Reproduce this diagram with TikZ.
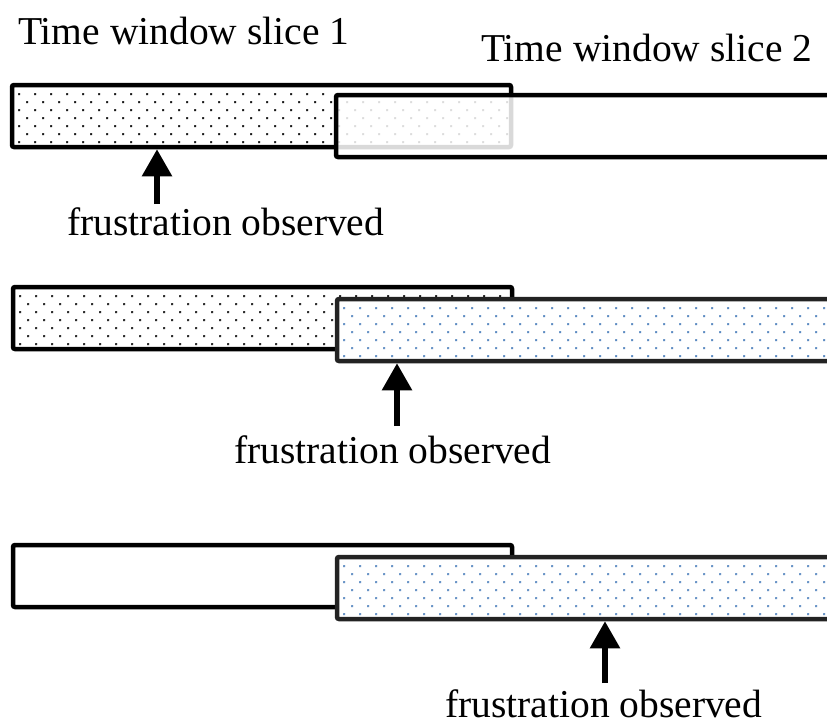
\documentclass[tikz,border=0pt]{standalone}
\usepackage{fontspec}
\setmainfont{Liberation Serif}
\usetikzlibrary{arrows.meta,calc}
\definecolor{dotblue}{HTML}{4A7EBB}
\definecolor{edgegray}{HTML}{232323}

% staggered lattice of small square dots filling a slice box
\newcommand\dotlattice[1]{%
  \foreach \r in {0,...,6}{%
    \foreach \c in {0,...,35}{%
      \pgfmathsetmacro\dx{6+16*\c+8*mod(\r,2)}%
      \pgfmathsetmacro\dy{8+8*\r}%
      \fill[#1] ($(path picture bounding box.north west)+(\dx,\dy)$) rectangle ++(2.2,2.2);
    }}}

\begin{document}
\begin{tikzpicture}[x=1pt,y=-1pt,
  slice/.style={rectangle, draw=black, line width=4.5pt, rounded corners=2pt,
    inner sep=0pt, outer sep=2.25pt, fill=white, minimum height=62pt},
  dotted fill/.style={path picture={\dotlattice{#1}}},
  lbl/.style={anchor=base west, inner sep=0pt, font=\fontsize{39.5}{47}\selectfont},
  pointer/.style={line width=5.5pt, -{Triangle[width=29pt,length=27pt]}}]

\useasboundingbox (0,0) rectangle (827,724);
\clip (0,0) rectangle (827,724);

% headings
\node[lbl] (title1) at (18,44) {Time window slice 1};
\node[lbl] (title2) at (481,61) {Time window slice 2};

% first case: slice 1 shaded, slice 2 laid over it
\node[slice, minimum width=499pt, dotted fill=black] (s1a) at (261.5,116) {};
\node[slice, minimum width=564pt, fill opacity=0.85] (s1b) at (618,126) {};

% second case: both slices shaded
\node[slice, minimum width=499pt, dotted fill=black] (s2a) at (262.5,318) {};
\node[slice, draw=edgegray, minimum width=563pt, dotted fill=dotblue] (s2b) at (618.5,330) {};

% third case: only slice 2 shaded
\node[slice, minimum width=499pt] (s3a) at (262.5,576) {};
\node[slice, draw=edgegray, minimum width=563pt, dotted fill=dotblue] (s3b) at (618.5,588) {};

% observation labels and pointers
\node[lbl] (obs1) at (67,235) {frustration observed};
\node[lbl] (obs2) at (234,463) {frustration observed};
\node[lbl] (obs3) at (445,717) {frustration observed};

\coordinate (t1) at (157,204);
\coordinate (t2) at (397,426);
\coordinate (t3) at (605,683);
\draw[pointer] (t1) -- (t1 |- s1a.south);
\draw[pointer] (t2) -- (t2 |- s2b.south);
\draw[pointer] (t3) -- (t3 |- s3b.south);
\end{tikzpicture}
\end{document}
